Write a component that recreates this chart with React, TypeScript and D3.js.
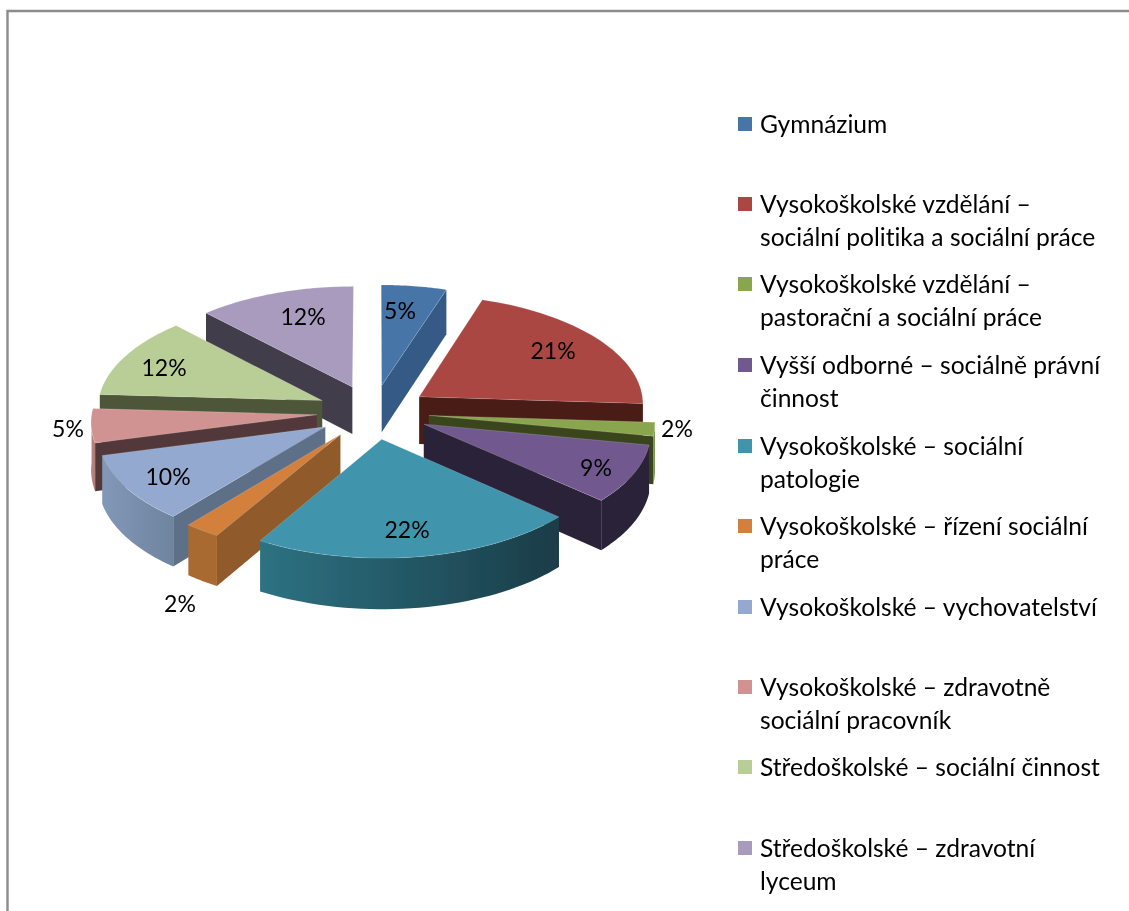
import React from "react";
import * as d3 from "d3";

const categories = [
  ["Gymnázium"],
  ["Vysokoškolské vzdělání –", "sociální politika a sociální práce"],
  ["Vysokoškolské vzdělání –", "pastorační a sociální práce"],
  ["Vyšší odborné – sociálně právní", "činnost"],
  ["Vysokoškolské – sociální", "patologie"],
  ["Vysokoškolské – řízení sociální", "práce"],
  ["Vysokoškolské – vychovatelství"],
  ["Vysokoškolské – zdravotně", "sociální pracovník"],
  ["Středoškolské – sociální činnost"],
  ["Středoškolské – zdravotní", "lyceum"],
];
const values = [5, 21, 2, 8.6, 21.9, 2.4, 10, 5, 12, 12.1];
const topColors = ["#4674a8", "#aa4643", "#89a54e", "#71588f", "#4095ad", "#d4803c", "#93a9cf", "#d19392", "#b9cd96", "#a99bbd"];
const sideColors = ["#355a85", "#4a1c18", "#3a451f", "#2c2238", "#1a3c47", "#915a2a", "#5d6f88", "#53393a", "#4e5639", "#433d4c"];
const rimLeft = ["#355a85", "#6d2c29", "#6f8d3f", "#2c2238", "#2d7282", "#a96a30", "#8397b8", "#bb8583", "#4e5639", "#433d4c"];
const rimRight = ["#355a85", "#4a1c18", "#5f7b34", "#2c2238", "#1a3c47", "#a96a30", "#6f849f", "#b07c7a", "#4e5639", "#433d4c"];

// layout of the text
const labelCentres: [number, number][] = [
  [400, 310], [553, 350], [677, 428], [596, 467], [407, 529],
  [180, 603], [168, 476], [68, 428], [164, 367], [303, 316],
];
const legendY = [124, 204, 284, 365, 446, 526, 607, 687, 767, 848];

const W = 1129, H = 911;
const CX = 373, CY = 412, RX = 225, RV = 109, K = 0.056, DEPTH = 47.5, EXPLODE = 0.25;
const FONT = "Lato, Carlito, Calibri, sans-serif";

const project = (X: number, Y: number, down = 0): [number, number] => {
  const s = 1 / (1 + K * Y);
  return [CX + RX * X * s, CY - RV * Y * s + DEPTH * s * down];
};

const line = d3.line<[number, number]>();
const arcs = d3.pie<number>().sort(null).value((d) => d)(values);

const slices = arcs.map((a, i) => {
  const mid = (a.startAngle + a.endAngle) / 2;
  const ox = EXPLODE * Math.sin(mid), oy = EXPLODE * Math.cos(mid);
  const at = (t: number, down = 0) => project(ox + Math.sin(t), oy + Math.cos(t), down);
  const apex = (down = 0) => project(ox, oy, down);
  const steps = d3.range(0, 41).map((j) => a.startAngle + ((a.endAngle - a.startAngle) * j) / 40);
  const top = line([apex(), ...steps.map((t) => at(t))]) + "Z";
  const faces: string[] = [];
  if (Math.sin(a.startAngle) < -1e-6)
    faces.push(line([apex(), at(a.startAngle), at(a.startAngle, 1), apex(1)]) + "Z");
  if (Math.sin(a.endAngle) > 1e-6)
    faces.push(line([apex(), at(a.endAngle), at(a.endAngle, 1), apex(1)]) + "Z");
  const front = steps.filter((t) => Math.cos(t) <= 0);
  const rim =
    front.length > 1
      ? line([...front.map((t) => at(t)), ...front.slice().reverse().map((t) => at(t, 1))]) + "Z"
      : null;
  return { i, oy, top, faces, rim };
});
const order = slices.slice().sort((p, q) => q.oy - p.oy);

export default function App() {
  return (
    <svg width={W} height={H} viewBox={`0 0 ${W} ${H}`} style={{ position: "absolute", left: 0, top: 0, display: "block", background: "#fff" }}>
      <defs>
        {slices.map((s) => (
          <linearGradient key={s.i} id={`rim${s.i}`} x1="0" x2="1" y1="0" y2="0">
            <stop offset="0" stopColor={rimLeft[s.i]} />
            <stop offset="1" stopColor={rimRight[s.i]} />
          </linearGradient>
        ))}
        <filter id="soft" filterUnits="userSpaceOnUse" x={0} y={0} width={W} height={H}>
          <feGaussianBlur stdDeviation={0.45} />
        </filter>
      </defs>
      <g filter="url(#soft)">
        <path d={`M7.5 911V11H1129`} fill="none" stroke="#8c8c8c" strokeWidth={2.4} />
        {order.map((s) => (
          <g key={s.i}>
            {s.faces.map((d, n) => (
              <path key={n} d={d} fill={sideColors[s.i]} />
            ))}
            {s.rim && <path d={s.rim} fill={`url(#rim${s.i})`} />}
            <path d={s.top} fill={topColors[s.i]} stroke="#fff" strokeOpacity={0.2} strokeWidth={0.8} />
          </g>
        ))}
        <g fontFamily={FONT} fontSize={23} fill="#000" textAnchor="middle" dominantBaseline="central">
          {arcs.map((a, i) => (
            <text key={i} x={labelCentres[i][0]} y={labelCentres[i][1]}>
              {d3.format(".0f")(a.value)}%
            </text>
          ))}
        </g>
        <g fontFamily={FONT} fontSize={24.6} fill="#000" style={{ fontVariantLigatures: "none" }}>
          {categories.map((lines, i) => (
            <g key={i}>
              <rect x={738} y={legendY[i] - 7} width={14} height={14} fill={topColors[i]} />
              {lines.map((t, n) => (
                <text key={n} x={760} y={legendY[i] - 1 + n * 33} dominantBaseline="central">
                  {t}
                </text>
              ))}
            </g>
          ))}
        </g>
      </g>
    </svg>
  );
}
